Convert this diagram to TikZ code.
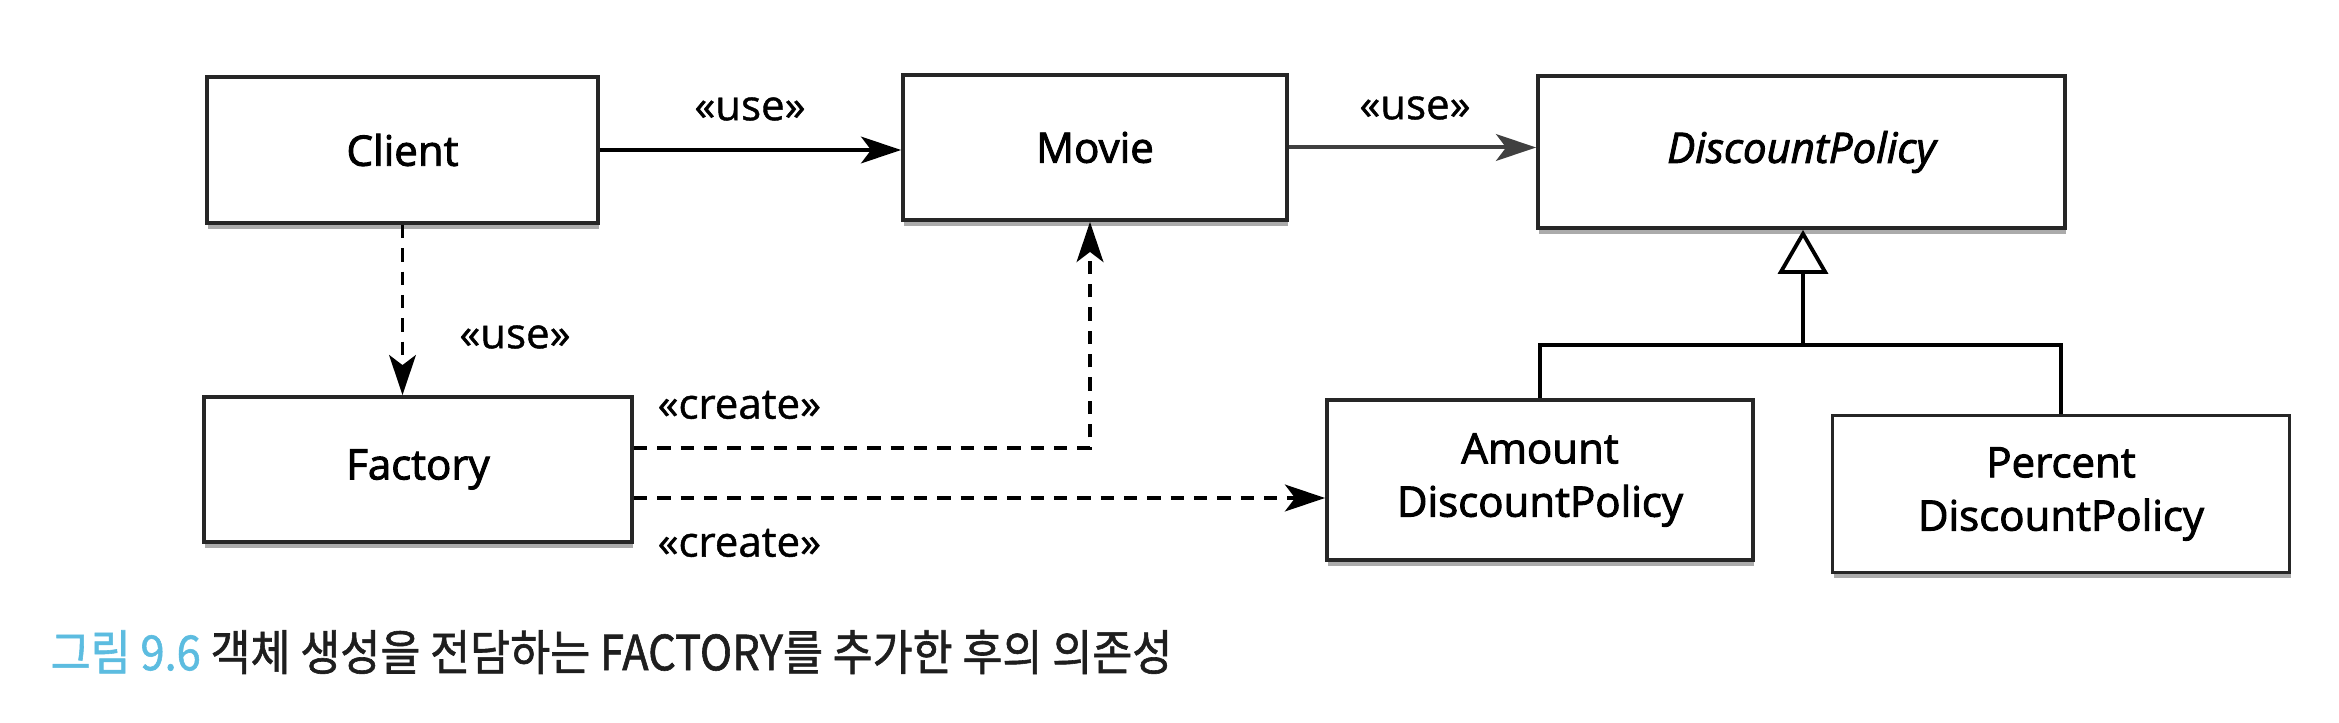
\documentclass[tikz,border=0pt]{standalone}
\usepackage{fontspec}
\setmainfont{Open Sans}
\newfontfamily\boxfont{Open Sans}[FakeBold=2.2]
\newfontfamily\lblfont{Open Sans}[FakeBold=1]
\newfontfamily\krfont{Noto Sans CJK KR}[FakeStretch=0.9, FakeBold=1.2]
\usetikzlibrary{arrows.meta,shadows}
\definecolor{capblue}{HTML}{5CBCE0}
\definecolor{captext}{HTML}{1E1E1E}
\begin{document}
\begin{tikzpicture}[x=0.3pt,y=-0.3pt,
  font=\fontsize{12.6}{16}\selectfont,
  box/.style={draw=black!85, line width=1.15pt, fill=white, inner sep=0pt, align=center,
    font=\fontsize{12.6}{16}\selectfont\boxfont,
    drop shadow={shadow xshift=0.4pt, shadow yshift=-1.8pt, fill=black!65, opacity=0.5}},
  usearrow/.style={line width=1.2pt, -{Stealth[length=12pt,width=8pt,inset=3pt]}},
  deparrow/.style={line width=1.4pt, dash pattern=on 4pt off 3pt, -{Stealth[length=12pt,width=8pt,inset=3pt]}},
  lbl/.style={inner sep=0pt, font=\fontsize{12.6}{16}\selectfont\lblfont}]
\useasboundingbox (0,0) rectangle (2339,723);
\fill[white] (0,0) rectangle (2339,723);

\node[box, minimum width=117.3pt, minimum height=43.8pt] (client) at (402.5,150) {Client};
\node[box, minimum width=115.2pt, minimum height=43.5pt] (movie) at (1095,147.5) {Movie};
\node[box, minimum width=158.1pt, minimum height=45.6pt] (dp) at (1801.5,152) {\itshape DiscountPolicy};
\node[box, minimum width=128.4pt, minimum height=43.5pt] (factory) at (418,469.5) {Factory};
\node[box, minimum width=127.8pt, minimum height=48pt] (amount) at (1540,480) {Amount\\DiscountPolicy};
\node[box, minimum width=137.1pt, minimum height=47.1pt] (percent) at (2061,494) {Percent\\DiscountPolicy};

% solid uses
\draw[usearrow] (client.east) -- (client.east -| movie.west);
\draw[usearrow, draw=black!75] (movie.east) -- (movie.east -| dp.west);

% dashed use / create
\draw[deparrow, line width=1.1pt] (client.south) -- (client.south |- factory.north);
\draw[deparrow] ([yshift=6.45pt]factory.east) -| ([xshift=-1.5pt]movie.south);
\coordinate (lowstart) at ([yshift=-8.55pt]factory.east);
\draw[deparrow] (lowstart) -- (lowstart -| amount.west);

% inheritance
\coordinate (bar) at (1803,345);
\draw[line width=1.15pt] (amount.north) |- (percent.north |- bar) -- (percent.north);
\draw[line width=1.15pt, -{Triangle[open, length=13.2pt, width=15pt, line width=1.15pt]}] (bar) -- (bar |- dp.south);

% labels
\node[lbl] (use1) at (750,109) {«use»};
\node[lbl] (use2) at (1415,108) {«use»};
\node[lbl] (use3) at (515,337) {«use»};
\node[lbl, anchor=west] (create1) at (657,405) {«create»};
\node[lbl, anchor=west] (create2) at (657,543) {«create»};

% caption
\node[inner sep=0pt, anchor=west, text=captext] (caption) at (50,652)
  {\krfont\fontsize{14.5}{16}\selectfont\textcolor{capblue}{그림 9.6} 객체 생성을 전담하는 FACTORY를 추가한 후의 의존성};
\end{tikzpicture}
\end{document}
